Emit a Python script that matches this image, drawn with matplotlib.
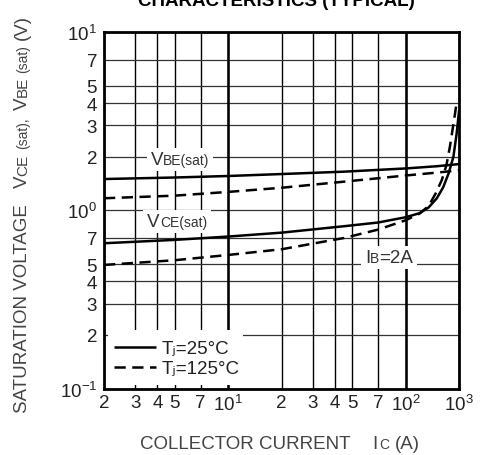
import matplotlib
matplotlib.use('Agg')
import matplotlib.pyplot as plt
from matplotlib.transforms import offset_copy, Bbox
from matplotlib.patches import Rectangle

plt.rcParams['font.family'] = ['Liberation Sans', 'DejaVu Sans']
plt.rcParams['mathtext.fontset'] = 'custom'
plt.rcParams['mathtext.rm'] = 'Liberation Sans'
plt.rcParams['mathtext.it'] = 'Liberation Sans:italic'
plt.rcParams['mathtext.bf'] = 'Liberation Sans:bold'

# ---------------- data ----------------
ic_vbe = [2, 5, 10, 20, 45, 100, 150, 200]
vbe_25 = [1.50, 1.53, 1.56, 1.60, 1.65, 1.72, 1.77, 1.82]
vbe_125 = [1.17, 1.21, 1.27, 1.34, 1.45, 1.57, 1.63, 1.68]

ic_vce_25 = [2, 5, 10, 20, 45, 70, 100, 120, 135, 150, 163, 175, 186, 194, 200]
vce_25 = [0.654, 0.683, 0.713, 0.75, 0.815, 0.855, 0.915, 0.965, 1.04, 1.17, 1.35, 1.62, 2.0, 2.7, 3.6]

ic_vce_125 = [2, 5, 10, 20, 45, 70, 100, 120, 135, 148, 160, 170, 178, 185, 190, 193]
vce_125 = [0.494, 0.525, 0.562, 0.605, 0.70, 0.78, 0.88, 0.96, 1.06, 1.25, 1.48, 1.8, 2.3, 2.95, 3.5, 3.9]

x_ticks = [2, 3, 4, 5, 7, 10, 20, 30, 40, 50, 70, 100, 200]
x_labels = ['2', '3', '4', '5', '7', r'$\mathregular{10^{1}}$', '2', '3', '4', '5', '7',
            r'$\mathregular{10^{2}}$', r'$\mathregular{10^{3}}$']
y_ticks = [0.1, 0.2, 0.3, 0.4, 0.5, 0.7, 1, 2, 3, 4, 5, 7, 10]
y_labels = [r'$\mathregular{10^{-1}}$', '2', '3', '4', '5', '7', r'$\mathregular{10^{0}}$',
            '2', '3', '4', '5', '7', r'$\mathregular{10^{1}}$']

legend_labels = ['T\u2c7c=25°C', 'T\u2c7c=125°C']

# ---------------- figure ----------------
W, H = 480, 456
fig = plt.figure(figsize=(W / 100, H / 100), dpi=100)
ax = fig.add_axes([104 / W, (H - 389.5) / H, 355 / W, 356.2 / H])
ax.set_xscale('log')
ax.set_yscale('log')
ax.set_xlim(2, 200)
ax.set_ylim(0.1, 10)
ax.minorticks_off()
ax.set_xticks(x_ticks)
ax.set_xticklabels(x_labels)
ax.set_yticks(y_ticks)
ax.set_yticklabels(y_labels)
ax.tick_params(length=0, labelsize=13.5, labelcolor='#222222')
ax.tick_params(axis='x', pad=4)
ax.tick_params(axis='y', pad=5)
ax.set_axisbelow(True)
ax.grid(True, axis='x', color='black', lw=1.0)
ax.grid(True, axis='y', color='#333333', lw=0.9)
for v in x_ticks:
    if v in (10, 100):
        ax.axvline(v, color='black', lw=1.8, zorder=0.6)
for s in ax.spines.values():
    s.set_linewidth(2.0)
    s.set_color('black')
    s.set_zorder(5)

LW = 1.8
DASH = (4.5, 2.6)
l1, = ax.plot(ic_vbe, vbe_25, color='black', lw=LW, solid_capstyle='butt', zorder=3)
l2, = ax.plot(ic_vbe, vbe_125, color='black', lw=LW, ls=(0, DASH), zorder=3)
ax.plot(ic_vce_25, vce_25, color='black', lw=LW, zorder=3)
ax.plot(ic_vce_125, vce_125, color='black', lw=LW, ls=(0, DASH), zorder=3)

renderer = fig.canvas.get_renderer()


def rich(owner, x, y, pieces, transform, rotation=0, align='left', color='#333333', zorder=4):
    """pieces: (text, size, gap_before_px, dy_px)"""
    objs, advs, gaps = [], [], []
    for s, size, gap, dy in pieces:
        t = owner.text(x, y, s, fontsize=size, rotation=rotation, rotation_mode='anchor',
                       ha='left', va='baseline', color=color, zorder=zorder, transform=transform)
        bb = t.get_window_extent(renderer)
        advs.append(bb.height if rotation == 90 else bb.width)
        gaps.append(gap)
        objs.append((t, dy))
    total = sum(advs) + sum(gaps)
    off = {'left': 0, 'center': -total / 2, 'right': -total}[align]
    for (t, dy), a, g in zip(objs, advs, gaps):
        off += g
        if rotation == 90:
            t.set_transform(offset_copy(transform, fig=fig, x=-dy, y=off, units='dots'))
        else:
            t.set_transform(offset_copy(transform, fig=fig, x=off, y=dy, units='dots'))
        off += a
    return [o[0] for o in objs]


def mask(texts, padx=4, pady=3):
    bbs = [t.get_window_extent(renderer) for t in texts]
    bb = Bbox.union(bbs)
    x0, y0 = ax.transAxes.inverted().transform((bb.x0 - padx, bb.y0 - pady))
    x1, y1 = ax.transAxes.inverted().transform((bb.x1 + padx, bb.y1 + pady))
    ax.add_patch(Rectangle((x0, y0), x1 - x0, y1 - y0, transform=ax.transAxes,
                           facecolor='white', edgecolor='none', zorder=1.5))


# curve labels
t = rich(ax, 0.214, 0.630, [('V', 13.5, 0, 0), ('BE(sat)', 10, 0, 0)], ax.transAxes, align='center')
mask(t)
t = rich(ax, 0.206, 0.456, [('V', 13.5, 0, 0), ('CE(sat)', 10, 0, 0)], ax.transAxes, align='center')
mask(t)
t = rich(ax, 0.803, 0.355, [('I', 13.5, 0, 0), ('B', 10, 0, 0), ('=2A', 13.5, 0, 0)], ax.transAxes,
         align='center')
mask(t)

# legend area mask
ax.add_patch(Rectangle((0.011, 0.0098), 0.381, 0.154, transform=ax.transAxes,
                       facecolor='white', edgecolor='none', zorder=1.5))
leg = ax.legend([l1, l2], legend_labels, loc='lower left', bbox_to_anchor=(0.029, 0.032),
                frameon=False, fontsize=13.5, handlelength=2.2, handletextpad=0.35,
                labelspacing=0.15, borderpad=0, borderaxespad=0)
for txt in leg.get_texts():
    txt.set_color('#222222')

# axis labels
rich(fig, 140 / W, (H - 449) / H,
     [('COLLECTOR CURRENT', 13.5, 0, 0), ('I', 13.5, 22, 0), ('C', 10, 1, 0), ('(A)', 13.5, 6, 0)],
     fig.transFigure, color='#444444')
rich(fig, 27 / W, (H - 413) / H,
     [('SATURATION VOLTAGE', 13.5, 0, 0), ('V', 13.5, 16, 0), ('CE', 11, 0, 0), ('(sat),', 10, 5, 0),
      ('V', 13.5, 8, 0), ('BE', 11, 0, 0), ('(sat)', 10, 4, 0), ('(V)', 13.5, 5, 0)],
     fig.transFigure, rotation=90, color='#444444')

fig.text(276 / W, 1 - 6 / H, 'CHARACTERISTICS (TYPICAL)', ha='center', va='baseline',
         fontsize=13.5, fontweight='bold', color='black')

fig.savefig('out.png', dpi=100)
